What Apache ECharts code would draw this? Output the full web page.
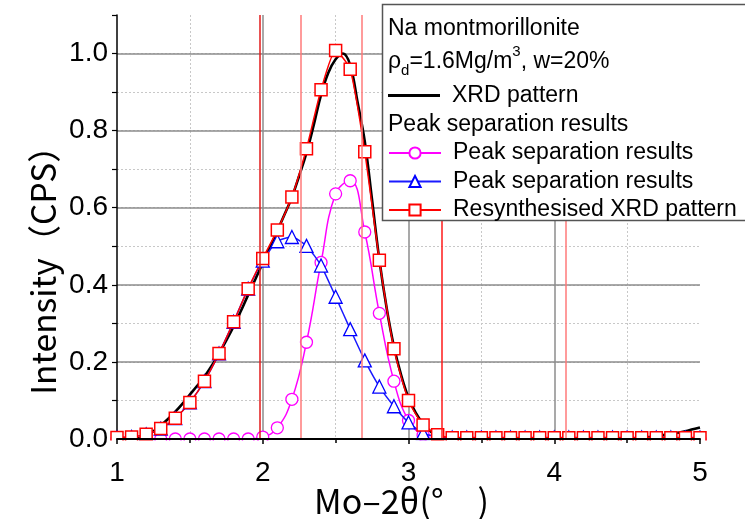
<!DOCTYPE html>
<html><head><meta charset="utf-8">
<script src="https://cdn.jsdelivr.net/npm/echarts@6/dist/echarts.min.js"></script>
<style>html,body{margin:0;padding:0;background:#fff}#c{width:745px;height:519px}</style>
</head><body><div id="c"></div>
<script>
// ---- data ----
const xTicks = [1, 2, 3, 4, 5];
const yTicks = [0.0, 0.2, 0.4, 0.6, 0.8, 1.0];
const yMax = 1.1;
const xName = 'Mo\u20132θ(°\u3000)';
const yName = 'Intensity（CPS）';
const legendTitle1 = 'Na montmorillonite';
const legendTitle2 = 'Peak separation results';
const names = ['XRD pattern', 'Peak separation results', 'Peak separation results\u200b', 'Resynthesised XRD pattern'];

const sampleX = [1.0,1.1,1.2,1.3,1.4,1.5,1.6,1.7,1.8,1.9,2.0,2.1,2.2,2.3,2.4,2.5,2.6,2.7,2.8,2.9,3.0,3.1,3.2,3.3,3.4,3.5,3.6,3.7,3.8,3.9,4.0,4.1,4.2,4.3,4.4,4.5,4.6,4.7,4.8,4.9,5.0];
const peak1 = [0,0,0,0,0,0,0,0,0,0,0.005,0.029,0.103,0.251,0.458,0.636,0.670,0.537,0.326,0.150,0.048,0.010,0,0,0,0,0,0,0,0,0,0,0,0,0,0,0,0,0,0,0];
const peak2 = [0.004,0.005,0.012,0.027,0.054,0.095,0.150,0.222,0.304,0.390,0.463,0.513,0.524,0.501,0.450,0.369,0.285,0.204,0.136,0.085,0.043,0.015,0.006,0.004,0.004,0.004,0.004,0.004,0.004,0.004,0.004,0.004,0.004,0.004,0.004,0.004,0.004,0.004,0.004,0.004,0.004];
const resynth = [0.004,0.005,0.012,0.027,0.054,0.095,0.150,0.222,0.304,0.390,0.468,0.542,0.628,0.753,0.906,1.008,0.959,0.745,0.464,0.234,0.100,0.036,0.011,0.003,0.003,0.003,0.003,0.003,0.003,0.003,0.003,0.003,0.003,0.003,0.003,0.003,0.003,0.003,0.003,0.003,0.003];

const xrdX = [1.00,1.05,1.10,1.15,1.20,1.25,1.30,1.35,1.40,1.45,1.50,1.55,1.60,1.65,1.70,1.75,1.80,1.85,1.90,1.95,2.00,2.05,2.10,2.15,2.20,2.25,2.30,2.35,2.40,2.45,2.50,2.55,2.60,2.65,2.70,2.75,2.80,2.85,2.90,2.95,3.00,3.05,3.10,3.15,3.20,3.25,3.30,3.35,3.40,3.45,3.50,3.55,3.60,3.65,3.70,3.75,3.80,3.85,3.90,3.95,4.00,4.05,4.10,4.15,4.20,4.25,4.30,4.35,4.40,4.45,4.50,4.55,4.60,4.65,4.70,4.75,4.80,4.85,4.90,4.95,5.00];
const xrdY = [0,0,0,0.002,0.008,0.020,0.035,0.052,0.071,0.092,0.115,0.138,0.162,0.190,0.222,0.256,0.292,0.332,0.374,0.415,0.457,0.498,0.540,0.583,0.627,0.683,0.742,0.815,0.893,0.950,0.985,1.000,0.970,0.875,0.772,0.620,0.465,0.340,0.240,0.165,0.107,0.068,0.040,0.020,0.008,0.002,0,0,0,0,0,0,0,0,0,0,0,0,0,0,0,0,0,0,0,0,0,0,0,0,0,0.001,0.003,0.005,0.007,0.010,0.013,0.016,0.020,0.025,0.030];

const vLineX = [1.975, 2.263, 2.68, 3.23, 4.075];

// ---- styles ----
const vLineColors = ['#e21a1a', '#ff7a7a', '#ff7a7a', '#ff1a1a', '#ff7a7a'];
const SANS = "'Liberation Sans', Arial, sans-serif";
const CJK = "'Noto Sans CJK JP', sans-serif";
const LFS = 23;

const pairs = (xs, ys) => xs.map((x, i) => [x, ys[i]]);

const chart = echarts.init(document.getElementById('c'), null, {renderer: 'canvas'});

const option = {
  animation: false,
  backgroundColor: '#fff',
  grid: {left: 117, right: 45, top: 15, bottom: 80, containLabel: false, outerBoundsMode: 'none'},
  xAxis: [
    { // gridlines only
      type: 'value', min: xTicks[0], max: xTicks[xTicks.length - 1], interval: xTicks[1] - xTicks[0], z: 0,
      axisLine: {show: false}, axisTick: {show: false}, axisLabel: {show: false},
      splitLine: {show: true, showMinLine: false, showMaxLine: false, lineStyle: {color: '#8c8c8c', width: 1.5}},
      minorTick: {show: false, splitNumber: 2},
      minorSplitLine: {show: true, lineStyle: {color: '#c8c8c8', width: 1, type: [2, 2]}}
    },
    { // visible axis
      type: 'value', min: xTicks[0], max: xTicks[xTicks.length - 1], interval: xTicks[1] - xTicks[0], z: 8,
      position: 'bottom',
      name: xName, nameLocation: 'middle', nameGap: 45, nameMoveOverlap: false,
      nameTextStyle: {fontFamily: CJK, fontSize: 34, color: '#000', padding: [0, 14, 0, 0]},
      axisLine: {show: true, onZero: false, lineStyle: {color: '#000', width: 2}},
      axisTick: {show: true, inside: false, length: 5, lineStyle: {color: '#000', width: 1.5}},
      minorTick: {show: true, splitNumber: 2, length: 4, lineStyle: {color: '#000', width: 1.5}},
      axisLabel: {show: true, margin: 20, fontFamily: SANS, fontSize: 28, color: '#000'},
      splitLine: {show: false}
    }
  ],
  yAxis: [
    {
      type: 'value', min: yTicks[0], max: yMax, interval: yTicks[1] - yTicks[0], z: 1,
      name: yName, nameLocation: 'middle', nameGap: 57, nameMoveOverlap: false,
      nameTextStyle: {fontFamily: CJK, fontSize: 33.5, color: '#000', padding: [0, 70, 0, 0]},
      axisLine: {show: true, onZero: false, lineStyle: {color: '#000', width: 1.5}},
      axisTick: {show: false},
      axisLabel: {show: true, margin: 9, fontFamily: SANS, fontSize: 28, color: '#000', showMaxLabel: false,
        formatter: v => v.toFixed(1)},
      splitLine: {show: true, showMinLine: false, showMaxLine: false, lineStyle: {color: '#8c8c8c', width: 1.5}}
    },
    {
      type: 'value', min: yTicks[0], max: yMax, interval: (yTicks[1] - yTicks[0]) / 2, z: 0,
      position: 'left',
      axisLine: {show: false}, axisLabel: {show: false},
      axisTick: {show: true, inside: false, length: 5, lineStyle: {color: '#000', width: 1.2}},
      splitLine: {show: true, showMinLine: false, showMaxLine: false, lineStyle: {color: '#c8c8c8', width: 1, type: [2, 2]}}
    }
  ],
  legend: [
    {
      data: [{name: names[0], icon: 'rect'}], left: 388, top: 84, padding: 0, orient: 'vertical',
      itemWidth: 52, itemHeight: 3, selectedMode: false, z: 20,
      textStyle: {fontFamily: SANS, fontSize: LFS, color: '#000', padding: [0, 0, 0, 7]}
    },
    {
      data: [names[1], names[2], names[3]], left: 388, top: 141.5, padding: 0, orient: 'vertical',
      itemWidth: 52, itemHeight: 14, itemGap: 5.5, selectedMode: false, z: 20,
      textStyle: {fontFamily: SANS, fontSize: LFS, color: '#000', padding: [0, 0, 0, 7]}
    }
  ],
  graphic: [
    {type: 'rect', z: 5, silent: true, shape: {x: 108, y: 440.5, width: 604, height: 12}, style: {fill: '#fff'}},
    {type: 'rect', z: 15, silent: true, shape: {x: 382.5, y: 4.5, width: 380, height: 216}, style: {fill: '#fff', stroke: '#555', lineWidth: 1.5}},
    {type: 'text', z: 16, silent: true, left: 388, top: 17, style: {text: legendTitle1, fontFamily: SANS, fontSize: LFS, fill: '#000'}},
    {type: 'text', z: 16, silent: true, left: 388, top: 44.5, style: {
      text: 'ρ{sub|d}=1.6Mg/m{sup|3}, w=20%', fontFamily: SANS, fontSize: LFS, fill: '#000',
      rich: {
        sub: {fontFamily: SANS, fontSize: 15, fill: '#000', verticalAlign: 'bottom', lineHeight: 34},
        sup: {fontFamily: SANS, fontSize: 15, fill: '#000', verticalAlign: 'top', lineHeight: 34}
      }}},
    {type: 'text', z: 16, silent: true, left: 388, top: 113, style: {text: legendTitle2, fontFamily: SANS, fontSize: LFS, fill: '#000'}}
  ],
  series: [
    {
      name: 'vlines', type: 'line', data: [], z: 1, silent: true,
      markLine: {silent: true, symbol: ['none', 'none'], animation: false, label: {show: false},
        data: vLineX.map((x, i) => ({xAxis: x, lineStyle: {color: vLineColors[i], width: 1.5, type: 'solid'}}))}
    },
    {
      name: names[0], type: 'line', data: pairs(xrdX, xrdY), symbol: 'none', smooth: 0.4, z: 2,
      color: '#000', lineStyle: {color: '#000', width: 2.6}
    },
    {
      name: names[1], type: 'line', data: pairs(sampleX, peak1), symbol: 'circle', symbolSize: 12, smooth: 0.45, z: 3,
      color: '#ff00ff', lineStyle: {color: '#ff00ff', width: 1.5},
      itemStyle: {color: '#fff', borderColor: '#ff00ff', borderWidth: 1.3}
    },
    {
      name: names[2], type: 'line', data: pairs(sampleX, peak2), symbol: 'triangle', symbolSize: 13, smooth: 0.2, z: 4,
      color: '#0000ff', lineStyle: {color: '#1a1aff', width: 1.5},
      itemStyle: {color: '#fff', borderColor: '#0000ff', borderWidth: 1.3}
    },
    {
      name: names[3], type: 'line', data: pairs(sampleX, resynth), symbol: 'rect', symbolSize: 12, smooth: 0.2, z: 4,
      color: '#ff0000', lineStyle: {color: '#ff0000', width: 1.5},
      itemStyle: {color: '#fff', borderColor: '#ff0000', borderWidth: 1.5}
    }
  ]
};
chart.setOption(option);
</script></body></html>
